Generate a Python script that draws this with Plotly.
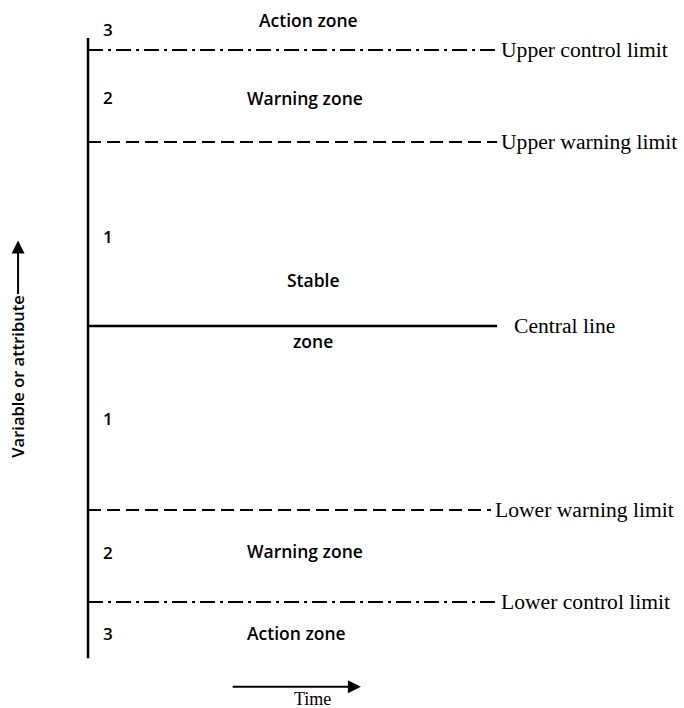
import plotly.graph_objects as go

# Control chart limits, in standard-deviation units from the central line
limit_names = ["Upper control limit", "Upper warning limit", "Central line",
               "Lower warning limit", "Lower control limit"]
limit_values = [3, 2, 0, -2, -3]
limit_styles = ["dashdot", "dash", "solid", "dash", "dashdot"]

# Zone labels
zone_numbers = ["3", "2", "1", "1", "2", "3"]
zone_number_y = [3.22, 2.48, 0.97, -1.01, -2.46, -3.34]
zone_names = ["Action zone", "Warning zone", "Stable", "zone", "Warning zone", "Action zone"]
zone_name_x = [0.538, 0.384, 0.55, 0.55, 0.384, 0.384]
zone_name_y = [3.33, 2.48, 0.50, -0.16, -2.45, -3.34]
zone_name_anchor = ["center", "left", "center", "center", "left", "left"]

time_start, time_end = 0.0, 1.0
axis_top, axis_bottom = 3.13, -3.61

dash_map = {"dashdot": "15px,5px,3px,5px", "dash": "13px,6px", "solid": "solid"}
label_x = {"Central line": 1.037, "Lower warning limit": 0.99}
line_end = {"Lower warning limit": 0.985}

fig = go.Figure()
serif = "Liberation Serif"
sans = "Open Sans"

# vertical axis
fig.add_trace(go.Scatter(x=[time_start, time_start], y=[axis_top, axis_bottom], mode="lines",
                         line=dict(color="black", width=2.5), showlegend=False, hoverinfo="skip"))

for name, val, style in zip(limit_names, limit_values, limit_styles):
    xe = line_end.get(name, time_end)
    fig.add_trace(go.Scatter(x=[time_start, xe], y=[val, val], mode="lines",
                             line=dict(color="black", width=2 if style != "solid" else 2.5,
                                       dash=dash_map[style]),
                             showlegend=False, hoverinfo="skip"))
    fig.add_annotation(x=label_x.get(name, 1.004), y=val, text=name, showarrow=False,
                       xanchor="left", yanchor="middle",
                       font=dict(family=serif, size=21.6, color="black"))

for t, y in zip(zone_numbers, zone_number_y):
    fig.add_annotation(x=0.048, y=y, text=t, showarrow=False, xanchor="center", yanchor="middle",
                       font=dict(family=sans, size=17, color="black", weight=600))

for t, x, y, a in zip(zone_names, zone_name_x, zone_name_y, zone_name_anchor):
    fig.add_annotation(x=x, y=y, text=t, showarrow=False, xanchor=a, yanchor="middle",
                       font=dict(family=sans, size=17.5, color="black", weight=600))

# Time arrow
fig.add_annotation(x=0.667, y=-3.92, ax=0.35, ay=-3.92, axref="x", ayref="y", xref="x", yref="y",
                   text="", showarrow=True, arrowhead=2, arrowsize=1.3, arrowwidth=2, arrowcolor="black")
fig.add_annotation(x=0.548, y=-4.055, text="Time", showarrow=False, xanchor="center", yanchor="middle",
                   font=dict(family=serif, size=18, color="black"))

# Y label with arrow
fig.add_annotation(x=-0.171, y=-0.55, text="Variable or attribute", textangle=-90, showarrow=False,
                   xanchor="center", yanchor="middle",
                   font=dict(family=sans, size=16.5, color="black", weight=600))
fig.add_annotation(x=-0.171, y=0.93, ax=-0.171, ay=0.33, axref="x", ayref="y", xref="x", yref="y",
                   text="", showarrow=True, arrowhead=2, arrowsize=1.3, arrowwidth=2, arrowcolor="black")

fig.update_layout(width=684, height=708, margin=dict(l=0, r=0, t=0, b=0),
                  plot_bgcolor="white", paper_bgcolor="white",
                  xaxis=dict(range=[-0.2152, 1.457], visible=False, fixedrange=True),
                  yaxis=dict(range=[-4.152, 3.543], visible=False, fixedrange=True))
fig.write_html("out.html", config={"displayModeBar": False},
               post_script="document.body.style.margin='0';document.body.style.overflow='hidden';")
